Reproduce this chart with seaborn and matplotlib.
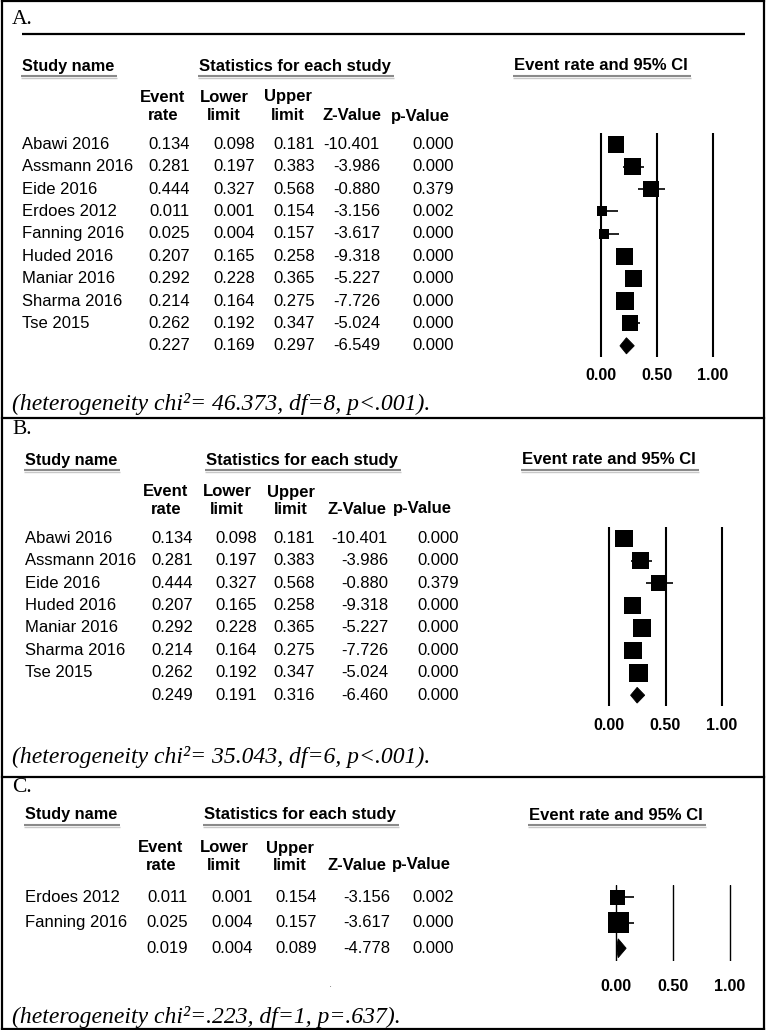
import numpy as np
import pandas as pd
import matplotlib
matplotlib.use("Agg")
import matplotlib.pyplot as plt
import seaborn as sns
from matplotlib.transforms import blended_transform_factory
from matplotlib.patches import Polygon

# ---------------- data ----------------
studies_a = ["Abawi 2016", "Assmann 2016", "Eide 2016", "Erdoes 2012", "Fanning 2016",
             "Huded 2016", "Maniar 2016", "Sharma 2016", "Tse 2015"]
rate_a = [0.134, 0.281, 0.444, 0.011, 0.025, 0.207, 0.292, 0.214, 0.262]
lower_a = [0.098, 0.197, 0.327, 0.001, 0.004, 0.165, 0.228, 0.164, 0.192]
upper_a = [0.181, 0.383, 0.568, 0.154, 0.157, 0.258, 0.365, 0.275, 0.347]
z_a = [-10.401, -3.986, -0.880, -3.156, -3.617, -9.318, -5.227, -7.726, -5.024]
p_a = [0.000, 0.000, 0.379, 0.002, 0.000, 0.000, 0.000, 0.000, 0.000]
weight_a = [13.4, 12.6, 12.6, 4.6, 4.2, 13.4, 13.4, 14.1, 11.8]
summary_a = [0.227, 0.169, 0.297, -6.549, 0.000]
het_a = "(heterogeneity chi\u00b2= 46.373, df=8, p<.001)."

studies_b = ["Abawi 2016", "Assmann 2016", "Eide 2016", "Huded 2016", "Maniar 2016",
             "Sharma 2016", "Tse 2015"]
rate_b = [0.134, 0.281, 0.444, 0.207, 0.292, 0.214, 0.262]
lower_b = [0.098, 0.197, 0.327, 0.165, 0.228, 0.164, 0.192]
upper_b = [0.181, 0.383, 0.568, 0.258, 0.365, 0.275, 0.347]
z_b = [-10.401, -3.986, -0.880, -9.318, -5.227, -7.726, -5.024]
p_b = [0.000, 0.000, 0.379, 0.000, 0.000, 0.000, 0.000]
weight_b = [14.0, 13.5, 12.0, 14.6, 15.6, 14.6, 15.6]
summary_b = [0.249, 0.191, 0.316, -6.460, 0.000]
het_b = "(heterogeneity chi\u00b2= 35.043, df=6, p<.001)."

studies_c = ["Erdoes 2012", "Fanning 2016"]
rate_c = [0.011, 0.025]
lower_c = [0.001, 0.004]
upper_c = [0.154, 0.157]
z_c = [-3.156, -3.617]
p_c = [0.002, 0.000]
weight_c = [33.8, 66.2]
summary_c = [0.019, 0.004, 0.089, -4.778, 0.000]
het_c = "(heterogeneity chi\u00b2=.223, df=1, p=.637)."

panel_labels = ["A.", "B.", "C."]
tick_values = [0.0, 0.5, 1.0]
tick_labels = ["0.00", "0.50", "1.00"]
col_top = ["Event", "Lower", "Upper", "", ""]
col_bottom = ["rate", "limit", "limit", "Z-Value", "p-Value"]
head_study = "Study name"
head_stats = "Statistics for each study"
head_plot = "Event rate and 95% CI"

# ---------------- style ----------------
sns.set_theme(style="white")
plt.rcParams["font.family"] = ["Liberation Sans", "DejaVu Sans"]

W, H = 766, 1030
fig = plt.figure(figsize=(W / 100, H / 100), dpi=100)
fig.patch.set_facecolor("white")
bg = fig.add_axes([0, 0, 1, 1])
bg.set_xlim(0, W)
bg.set_ylim(H, 0)
bg.axis("off")

SERIF = ["Liberation Serif", "DejaVu Serif"]
SANS = ["Liberation Sans", "DejaVu Sans"]


def px_axes(left, top, width, height):
    return fig.add_axes([left / W, 1 - (top + height) / H, width / W, height / H])


underline_jobs = []


def draw_panel(label, names, rate, lower, upper, z, p, weight, summary, het, L):
    n = len(names)
    xmin, xmax = -0.15, 1.15
    left = L["x0"] + xmin * L["unit"]
    width = (xmax - xmin) * L["unit"]
    height = (n + 1) * L["row_h"]
    ax = px_axes(left, L["top"], width, height)
    ax.patch.set_alpha(0)
    rows = np.arange(n)

    for t in tick_values:
        ax.axvline(t, color="black", lw=L["vlw"], zorder=1)
    ax.hlines(rows, lower, upper, color="black", lw=L["cilw"], zorder=2)
    df = pd.DataFrame({"rate": rate, "row": rows, "weight": weight})
    sns.scatterplot(data=df, x="rate", y="row", size="weight",
                    sizes=(0, L["smax"]), size_norm=(0, max(weight)),
                    marker="s", color="black", edgecolor="none", linewidth=0,
                    legend=False, ax=ax, zorder=3, clip_on=False)
    est, lo, hi = summary[0], summary[1], summary[2]
    h = L["dh"]
    ax.add_patch(Polygon([(lo, n), (est, n - h), (hi, n), (est, n + h)], closed=True,
                         fc="black", ec="black", lw=0.6, zorder=3, clip_on=False))
    ax.set_xlim(xmin, xmax)
    ax.set_ylim(n + 0.5, -0.5)
    ax.set_xticks(tick_values)
    ax.set_xticklabels(tick_labels, fontsize=11.5, fontweight="bold", family=SANS)
    ax.tick_params(axis="x", length=0, pad=L["pad"], colors="black")
    ax.set_yticks([])
    ax.set_xlabel("")
    ax.set_ylabel("")
    for s in ax.spines.values():
        s.set_visible(False)

    # table text
    tr = blended_transform_factory(bg.transData, ax.transData)
    for i in range(n):
        bg.text(L["name_x"], i, names[i], transform=tr, ha="left", va="center",
                fontsize=12, color="black")
        vals = [f"{rate[i]:.3f}", f"{lower[i]:.3f}", f"{upper[i]:.3f}",
                f"{z[i]:.3f}", f"{p[i]:.3f}"]
        for xv, s in zip(L["val_x"], vals):
            bg.text(xv, i, s, transform=tr, ha="right", va="center", fontsize=12,
                    color="black")
    svals = [f"{v:.3f}" for v in summary]
    for xv, s in zip(L["val_x"], svals):
        bg.text(xv, n, s, transform=tr, ha="right", va="center", fontsize=12, color="black")

    # headers
    ty = L["title_y"]
    t1 = bg.text(L["name_x"], ty, head_study, ha="left", va="center", fontsize=11.7,
                 fontweight="bold", color="black")
    t2 = bg.text(L["stat_cx"], ty, head_stats, ha="center", va="center", fontsize=12,
                 fontweight="bold", color="black")
    trh = blended_transform_factory(ax.transData, bg.transData)
    t3 = bg.text(0.0, ty, head_plot, transform=trh, ha="center", va="center",
                 fontsize=12, fontweight="bold", color="black")
    underline_jobs.append(([t1, t2, t3], ty + 10))
    for xv, a, b in zip(L["head_x"], col_top, col_bottom):
        if a:
            bg.text(xv, L["head_y"][0], a, ha="center", va="center", fontsize=12,
                    fontweight="bold", color="black")
        bg.text(xv, L["head_y"][1], b, ha="center", va="center", fontsize=12,
                fontweight="bold", color="black")

    # labels / footers
    bg.text(12, L["label_y"], label, ha="left", va="center", fontsize=15.5,
            family=SERIF, color="black")
    bg.text(12, L["foot_y"], het, ha="left", va="center", fontsize=17,
            family=SERIF, style="italic", color="black")
    return ax


LA = dict(x0=601, unit=112, top=133, row_h=22.4, vlw=1.5, cilw=1.2, smax=157,
          dh=0.36, pad=8, name_x=22, val_x=[190, 255, 315, 380, 454],
          head_x=[163, 224, 288, 352, 420], head_y=(97, 116), title_y=66,
          stat_cx=295, label_y=19, foot_y=404)
LB = dict(x0=609, unit=113, top=527, row_h=22.43, vlw=1.5, cilw=1.2, smax=173,
          dh=0.35, pad=8, name_x=25, val_x=[193, 257, 315, 388, 459],
          head_x=[166, 227, 291, 357, 422], head_y=(492, 509), title_y=460,
          stat_cx=302, label_y=430, foot_y=757)
LC = dict(x0=616, unit=114, top=884.5, row_h=25.5, vlw=1.0, cilw=1.2, smax=229,
          dh=0.37, pad=13, name_x=25, val_x=[188, 253, 317, 390, 454],
          head_x=[161, 224, 290, 357, 421], head_y=(848, 865), title_y=815,
          stat_cx=300, label_y=788, foot_y=1017)

draw_panel(panel_labels[0], studies_a, rate_a, lower_a, upper_a, z_a, p_a, weight_a,
           summary_a, het_a, LA)
draw_panel(panel_labels[1], studies_b, rate_b, lower_b, upper_b, z_b, p_b, weight_b,
           summary_b, het_b, LB)
draw_panel(panel_labels[2], studies_c, rate_c, lower_c, upper_c, z_c, p_c, weight_c,
           summary_c, het_c, LC)

# rule under "A."
bg.plot([22, 745], [34, 34], color="black", lw=1.6, solid_capstyle="butt")

# stray dot in panel C
bg.text(330, 984, ".", ha="center", va="center", fontsize=8, color="#777777")

# header underlines (grey)
fig.canvas.draw()
renderer = fig.canvas.get_renderer()
inv = bg.transData.inverted()
for texts, uy in underline_jobs:
    for t in texts:
        bb = t.get_window_extent(renderer)
        (x0, _), (x1, _) = inv.transform([(bb.x0, bb.y0), (bb.x1, bb.y1)])
        bg.plot([x0 - 1, x1 + 3], [uy, uy], color="#8a8a8a", lw=1.5,
                solid_capstyle="butt")
        bg.plot([x0 - 1, x1 + 3], [uy + 1.5, uy + 1.5], color="#c8c8c8", lw=1.0,
                solid_capstyle="butt")

# frame and dividers
frame_kw = dict(color="black", lw=1.6, solid_capstyle="projecting")
bg.plot([1.5, 1.5], [0.8, 1028.5], **frame_kw)
bg.plot([763.5, 763.5], [0.8, 1028.5], **frame_kw)
bg.plot([1.5, 763.5], [0.8, 0.8], **frame_kw)
bg.plot([1.5, 763.5], [1028.5, 1028.5], **frame_kw)
bg.plot([1.5, 763.5], [418, 418], **frame_kw)
bg.plot([1.5, 763.5], [777, 777], **frame_kw)

fig.savefig("out.png", dpi=100, facecolor="white")
